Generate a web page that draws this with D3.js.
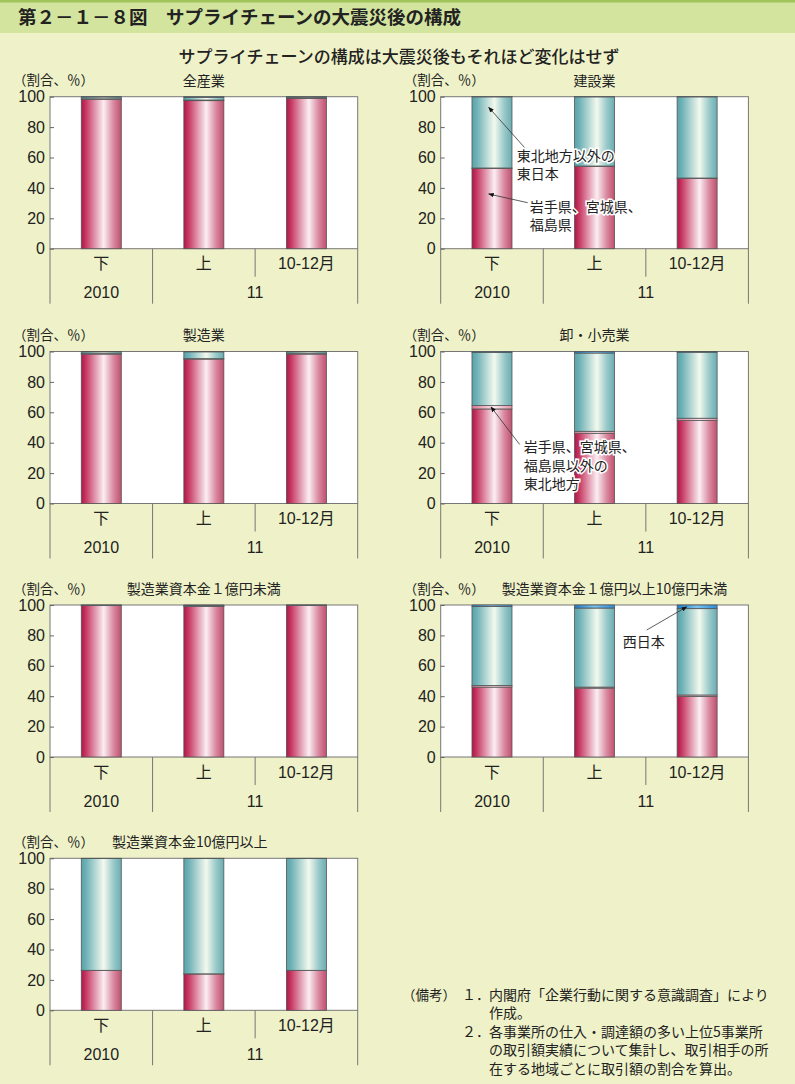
<!DOCTYPE html>
<html>
<head>
<meta charset="utf-8">
<script src="https://cdn.jsdelivr.net/npm/d3@7"></script>
<style>
  body { margin: 0; background: #eff2c8; }
  svg { display: block; }
  text { font-family: "Liberation Sans", "Noto Sans CJK JP", sans-serif; fill: #222; }
  .jp { font-family: "Noto Sans CJK JP", sans-serif; }
</style>
</head>
<body>
<div id="chart"></div>
<script>
// categories
var periods = ["下", "上", "10-12月"];
var yearLabels = ["2010", "11"];
var yearSpans = [1, 2];   // number of periods under each year label
var regions = ["岩手県、宮城県、福島県", "岩手県、宮城県、福島県以外の東北地方", "東北地方以外の東日本", "西日本"];
var sectors = ["全産業", "建設業", "製造業", "卸・小売業",
               "製造業資本金１億円未満", "製造業資本金１億円以上10億円未満", "製造業資本金10億円以上"];
var yTicks = [0, 20, 40, 60, 80, 100];

// series values (%), one row per sector, one value per period
var tohoku3 = [[98.3, 97.4, 98.9], [52.8, 54.1, 46.2], [98.3, 95.0, 98.3], [62.2, 46.2, 54.7],
               [99.6, 99.0, 99.7], [46.0, 45.3, 39.8], [26.2, 23.9, 26.2]];
var otherTohoku = [[0.3, 0.4, 0.2], [0.3, 0.3, 0.3], [0.3, 0.3, 0.3], [2.2, 1.3, 1.4],
                   [0.1, 0.2, 0.1], [1.0, 0.7, 1.0], [0.1, 0.1, 0.1]];
var eastJapan = [[1.2, 1.8, 0.7], [46.8, 45.5, 53.4], [1.2, 4.5, 1.2], [34.9, 51.5, 43.4],
                 [0.2, 0.5, 0.1], [52.0, 52.0, 56.8], [73.6, 75.9, 73.6]];
var westJapan = [[0.2, 0.4, 0.2], [0.1, 0.1, 0.1], [0.2, 0.2, 0.2], [0.7, 1.0, 0.5],
                 [0.1, 0.3, 0.1], [1.0, 2.0, 2.4], [0.1, 0.1, 0.1]];

var notes = [
  ["（備考）", "１．", "内閣府「企業行動に関する意識調査」により"],
  ["", "", "作成。"],
  ["", "２．", "各事業所の仕入・調達額の多い上位5事業所"],
  ["", "", "の取引額実績について集計し、取引相手の所"],
  ["", "", "在する地域ごとに取引額の割合を算出。"]
];

var W = 795, H = 1084;
var svg = d3.select("#chart").append("svg").attr("width", W).attr("height", H);

// gradients
var defs = svg.append("defs");
var grads = [
  ["g0", [[0, "#b0164a"], [0.12, "#c63a63"], [0.56, "#fbeef3"], [0.8, "#d98aa1"], [1, "#c0506f"]]],
  ["g1", [[0, "#de7592"], [0.56, "#fdecf1"], [1, "#e48ea5"]]],
  ["g2", [[0, "#57a4ab"], [0.12, "#6eb1b6"], [0.56, "#f3f9ee"], [0.8, "#9bcaca"], [1, "#6aadb2"]]],
  ["g3", [[0, "#1a7ccb"], [0.5, "#7cc4f0"], [1, "#2a8ad6"]]]
];
grads.forEach(function(g) {
  var lg = defs.append("linearGradient").attr("id", g[0])
    .attr("x1", "0%").attr("x2", "100%").attr("y1", "0%").attr("y2", "0%");
  g[1].forEach(function(s) { lg.append("stop").attr("offset", s[0]).attr("stop-color", s[1]); });
});
defs.append("marker").attr("id", "arr").attr("viewBox", "0 0 10 10")
  .attr("refX", 9).attr("refY", 5).attr("markerWidth", 7).attr("markerHeight", 7)
  .attr("orient", "auto")
  .append("path").attr("d", "M0,1L10,5L0,9Z").attr("fill", "#111");

// header band
svg.append("rect").attr("x", 0).attr("y", 0).attr("width", W).attr("height", 33).attr("fill", "#d3e49e");
svg.append("rect").attr("x", 0).attr("y", 0).attr("width", W).attr("height", 2.5).attr("fill", "#9fc45c");
svg.append("text").attr("class", "jp").attr("x", 18).attr("y", 24)
  .style("font-size", "18.5px").style("font-weight", "700")
  .text("第２－１－８図　サプライチェーンの大震災後の構成");
svg.append("text").attr("class", "jp").attr("x", 399).attr("y", 63)
  .attr("text-anchor", "middle").style("font-size", "17px").style("font-weight", "500")
  .text("サプライチェーンの構成は大震災後もそれほど変化はせず");

// panel layout
var colX = [50, 440.7], rowY = [96.7, 351.5, 605, 858.3];
var plotW = 307.7, plotH = 152;
var panelCell = [[0, 0], [1, 0], [0, 1], [1, 1], [0, 2], [1, 2], [0, 3]];
var titleX = [null, null, null, null, null, 61, 62];  // start x for long titles, else centred

var stack = d3.stack().keys([0, 1, 2, 3]);

sectors.forEach(function(name, si) {
  var g = svg.append("g")
    .attr("transform", "translate(" + colX[panelCell[si][0]] + "," + rowY[panelCell[si][1]] + ")");

  var x = d3.scaleBand().domain(periods).range([0, plotW]).paddingInner(0.61).paddingOuter(0.305);
  var y = d3.scaleLinear().domain([0, 100]).range([plotH, 0]);

  // unit + title
  g.append("text").attr("class", "jp").attr("x", -37).attr("y", -16).attr("dy", "0.35em")
    .style("font-size", "13.5px").text("（割合、％）");
  var t = g.append("text").attr("class", "jp").attr("y", -16).attr("dy", "0.35em").style("font-size", "14px");
  if (titleX[si] === null) t.attr("x", plotW / 2).attr("text-anchor", "middle");
  else t.attr("x", titleX[si]);
  t.text(name);

  // plot area
  g.append("rect").attr("width", plotW).attr("height", plotH).attr("fill", "#fff")
    .attr("stroke", "#777").attr("stroke-width", 1);

  var yAxis = d3.axisLeft(y).tickValues(yTicks).tickSizeInner(-4).tickSizeOuter(0).tickPadding(5);
  var ya = g.append("g").call(yAxis);
  ya.select(".domain").remove();
  ya.selectAll(".tick line").attr("stroke", "#666");
  ya.selectAll(".tick text").style("font-size", "16px").attr("fill", "#222")
    .style("font-family", "'Liberation Sans', sans-serif");

  // stacked bars
  var rows = periods.map(function(p, i) {
    return { period: p, 0: tohoku3[si][i], 1: otherTohoku[si][i], 2: eastJapan[si][i], 3: westJapan[si][i] };
  });
  g.selectAll(".serie").data(stack(rows)).enter().append("g")
    .attr("fill", function(d) { return "url(#g" + d.key + ")"; })
    .selectAll("rect").data(function(d) { return d; }).enter().append("rect")
    .attr("x", function(d) { return x(d.data.period); })
    .attr("y", function(d) { return y(d[1]); })
    .attr("height", function(d) { return y(d[0]) - y(d[1]); })
    .attr("width", x.bandwidth())
    .attr("stroke", "#555").attr("stroke-width", 0.8);

  // category axis below
  var step = x.step();
  var cat = g.append("g").attr("stroke", "#777").attr("stroke-width", 1);
  var yearBounds = [0];
  yearSpans.forEach(function(s) { yearBounds.push(yearBounds[yearBounds.length - 1] + s); });
  d3.range(periods.length + 1).forEach(function(i) {
    var full = yearBounds.indexOf(i) >= 0;
    cat.append("line").attr("x1", i * step).attr("x2", i * step)
      .attr("y1", plotH).attr("y2", plotH + (full ? 55 : 28));
  });
  periods.forEach(function(p, i) {
    g.append("text").attr("x", (i + 0.5) * step).attr("y", plotH + 15)
      .attr("dy", "0.35em").attr("text-anchor", "middle").style("font-size", "16px").text(p);
  });
  yearLabels.forEach(function(lbl, i) {
    var cx = (yearBounds[i] + yearBounds[i + 1]) / 2 * step;
    g.append("text").attr("x", cx).attr("y", plotH + 44).attr("dy", "0.35em")
      .attr("text-anchor", "middle").style("font-size", "16px").text(lbl);
  });

  // annotations
  function note(lines, tx, ty, from, to) {
    if (from) {
      g.append("line").attr("x1", from[0]).attr("y1", from[1]).attr("x2", to[0]).attr("y2", to[1])
        .attr("stroke", "#333").attr("stroke-width", 0.8).attr("marker-end", "url(#arr)");
    }
    lines.forEach(function(l, k) {
      g.append("text").attr("class", "jp").attr("x", tx).attr("y", ty + k * 18.5).attr("dy", "0.35em")
        .style("font-size", "14px").attr("stroke", "#fff").attr("stroke-width", 3)
        .attr("paint-order", "stroke").text(l);
    });
  }
  if (si === 1) {
    note(["東北地方以外の", "東日本"], 76, 59, [84, 51], [48, y(93)]);
    note(["岩手県、宮城県、", "福島県"], 89, 110, [87, 106], [48, y(36)]);
  }
  if (si === 3) {
    note(["岩手県、宮城県、", "福島県以外の", "東北地方"], 83, 96, [79, 93], [x(periods[0]) + 19, y(63.5)]);
  }
  if (si === 5) {
    note(["西日本"], 182, 37, [206, 25], [246, y(98.8)]);
  }
});

// footnotes
notes.forEach(function(n, i) {
  var yy = 995 + i * 18.5;
  var cols = [402, 462, 489];
  n.forEach(function(s, k) {
    if (s) svg.append("text").attr("class", "jp").attr("x", cols[k]).attr("y", yy).attr("dy", "0.35em")
      .style("font-size", k === 0 ? "13.5px" : "14px").attr("fill", "#333").text(s);
  });
});
</script>
</body>
</html>
